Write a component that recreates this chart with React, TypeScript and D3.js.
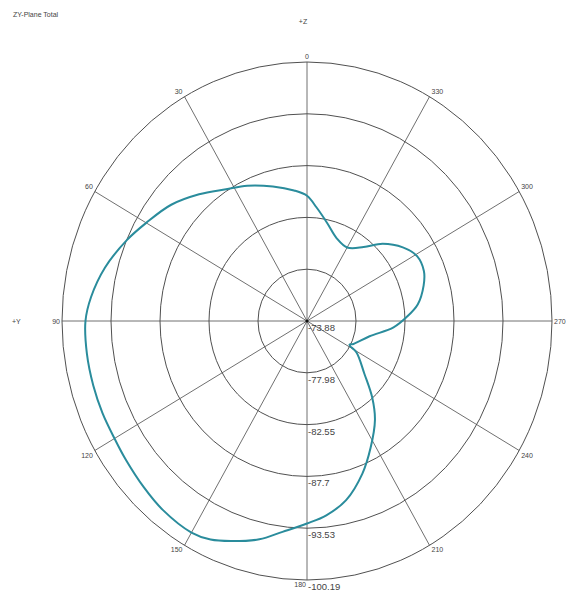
import React from "react";
import * as d3 from "d3";

const ANGLE_TICKS = [0, 30, 60, 90, 120, 150, 180, 210, 240, 270, 300, 330];
const DB_LEVELS = [-73.88, -77.98, -82.55, -87.7, -93.53, -100.19];
const DB_LABELS = ["-73.88", "-77.98", "-82.55", "-87.7", "-93.53", "-100.19"];

const patternAngles = [0, 6, 15, 25, 33, 42, 51, 60, 67, 76, 84, 90, 98, 106, 113, 120, 126, 134, 141, 150, 155, 160, 167, 173, 180, 186, 193, 201, 208, 216, 222, 229, 239, 242, 245, 257, 266, 272, 278, 286, 292, 299, 306, 314, 321, 330, 339, 348, 355];
const patternDb = [-84.7, -85.3, -86.1, -87.1, -87.9, -89.4, -91.0, -92.3, -93.5, -95.2, -96.4, -97.0, -97.1, -97.1, -97.1, -97.1, -97.3, -97.7, -98.1, -98.3, -97.9, -97.0, -95.7, -94.2, -93.0, -92.2, -90.9, -88.6, -86.5, -84.4, -82.5, -80.5, -78.8, -77.9, -78.2, -79.4, -81.5, -82.7, -84.0, -85.0, -85.5, -85.5, -84.7, -83.3, -81.8, -80.9, -81.2, -82.3, -83.6];

const W = 568;
const H = 599;
const CX = 307;
const CY = 321;
const RX = 245;
const RY = 259;
const FONT = "Liberation Sans, Arial, sans-serif";

export default function App() {
  const rScale = d3
    .scaleLinear()
    .domain(DB_LEVELS)
    .range(DB_LEVELS.map((_, i) => i / (DB_LEVELS.length - 1)));
  const toXY = (deg: number, frac: number): [number, number] => {
    const a = (deg * Math.PI) / 180;
    return [CX - RX * frac * Math.sin(a), CY - RY * frac * Math.cos(a)];
  };
  const pts = patternAngles.map((a, i) => toXY(a, rScale(patternDb[i])));
  const line = d3.line().curve(d3.curveCatmullRomClosed.alpha(0.5));
  const path = line(pts) || "";

  const rings = DB_LEVELS.slice(1).map((_, i) => (i + 1) / (DB_LEVELS.length - 1));

  return (
    <svg
      width={W}
      height={H}
      style={{ position: "absolute", left: 0, top: 0, background: "#fff" }}
      fontFamily={FONT}
    >
      <text x={13} y={17} fontSize={7} fill="#444">ZY-Plane Total</text>
      <text x={303} y={24} fontSize={7} fill="#444" textAnchor="middle">+Z</text>
      <text x={12} y={324} fontSize={7} fill="#444">+Y</text>

      {ANGLE_TICKS.map((a) => {
        const [x, y] = toXY(a, 1);
        return <line key={"s" + a} x1={CX} y1={CY} x2={x} y2={y} stroke="#707070" strokeWidth={1} />;
      })}
      {rings.map((f) => (
        <ellipse key={"r" + f} cx={CX} cy={CY} rx={RX * f} ry={RY * f} fill="none" stroke="#505050" strokeWidth={1} />
      ))}
      <circle cx={CX} cy={CY} r={1.6} fill="#111" />

      {ANGLE_TICKS.map((a) => {
        const [x, y] = toXY(a, 1);
        const s = Math.sin((a * Math.PI) / 180);
        const c = Math.cos((a * Math.PI) / 180);
        let anchor: "start" | "middle" | "end" = "middle";
        if (s > 0.1) anchor = "end";
        else if (s < -0.1) anchor = "start";
        let dx = anchor === "end" ? -2 : anchor === "start" ? 2 : 0;
        let dy = c > 0.1 ? -3 : c < -0.1 ? 7 : 2.5;
        if (a === 180) {
          anchor = "end";
          dx = -1;
        }
        return (
          <text key={"t" + a} x={x + dx} y={y + dy} fontSize={7} fill="#444" textAnchor={anchor}>
            {a}
          </text>
        );
      })}

      {DB_LABELS.map((lab, i) => {
        const [, y] = toXY(180, i / (DB_LEVELS.length - 1));
        return (
          <text key={"d" + i} x={CX + 1} y={y + 10} fontSize={9.5} fill="#444">
            {lab}
          </text>
        );
      })}

      <path d={path} fill="none" stroke="#2a8c9c" strokeWidth={2} />
    </svg>
  );
}
